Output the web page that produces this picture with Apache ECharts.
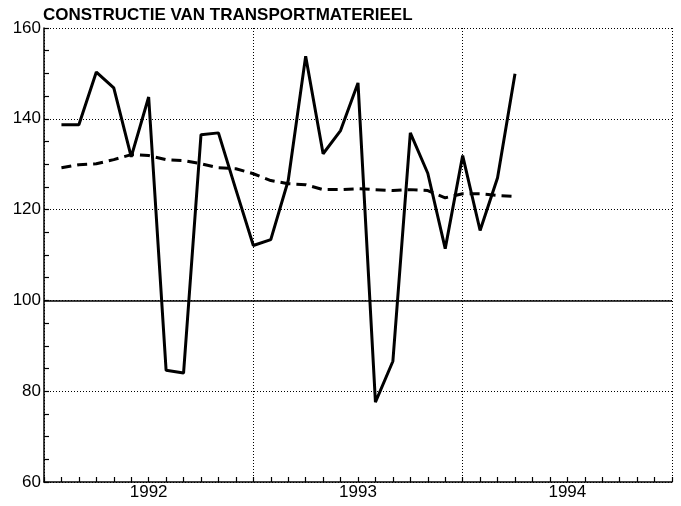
<!DOCTYPE html>
<html>
<head>
<meta charset="utf-8">
<script src="https://cdn.jsdelivr.net/npm/echarts@6/dist/echarts.min.js"></script>
<style>
  html, body { margin: 0; padding: 0; background: #fff; }
  #main { width: 681px; height: 506px; }
</style>
</head>
<body>
<div id="main"></div>
<script>
// x-as: 3 jaren, maandelijkse tikken (37 posities, 0..36)
var years = ['1992', '1993', '1994'];
var monthsPerYear = 12;
// productie-index, maandwaarden vanaf positie 1
var production = [138.7, 138.7, 150.3, 146.8, 131.6, 144.8, 84.6, 84.0, 136.5, 136.9, 124.4, 112.1,
                  113.4, 126.4, 153.8, 132.3, 137.4, 147.9, 77.6, 86.6, 136.9, 128.0, 111.4, 131.9,
                  115.4, 127.0, 149.9];
// trend (gestippelde lijn)
var trend = [129.2, 129.9, 130.1, 131.0, 132.1, 131.9, 131.0, 130.8, 130.1, 129.2, 129.0, 127.9,
             126.4, 125.7, 125.5, 124.4, 124.4, 124.6, 124.4, 124.2, 124.4, 124.2, 122.6, 123.5,
             123.5, 123.1, 122.9];
var yTicks = [60, 80, 100, 120, 140, 160];

var positions = [];
for (var i = 0; i <= years.length * monthsPerYear; i++) positions.push(i);

var myChart = echarts.init(document.getElementById('main'));
var font = 'Liberation Sans, Arial, sans-serif';

var option = {
  animation: false,
  backgroundColor: '#fff',
  title: {
    text: 'CONSTRUCTIE VAN TRANSPORTMATERIEEL',
    left: 43,
    top: 7,
    padding: 0,
    textStyle: { fontFamily: font, fontSize: 17, fontWeight: 'bold', color: '#000' }
  },
  grid: { left: 44, right: 9, top: 28, bottom: 24, containLabel: false },
  xAxis: {
    type: 'category',
    boundaryGap: false,
    data: positions,
    axisLine: { lineStyle: { color: '#000', width: 1.5 } },
    axisTick: { interval: 0, inside: true, length: 5, lineStyle: { color: '#000', width: 1.2 } },
    axisLabel: {
      interval: 0,
      margin: 2,
      fontFamily: font,
      fontSize: 17,
      color: '#000',
      formatter: function (v, idx) {
        return idx % monthsPerYear === 6 ? years[Math.floor(idx / monthsPerYear)] : '';
      }
    },
    splitLine: {
      show: true,
      interval: function (idx) { return idx % monthsPerYear === 0; },
      lineStyle: { color: '#000', type: [1, 2], width: 1 }
    }
  },
  yAxis: {
    type: 'value',
    min: yTicks[0],
    max: yTicks[yTicks.length - 1],
    interval: 20,
    axisLine: { show: true, lineStyle: { color: '#000', width: 1.5 } },
    axisTick: { show: true, inside: true, length: 5, lineStyle: { color: '#000', width: 1.2 } },
    minorTick: { show: true, splitNumber: 4, length: 5, lineStyle: { color: '#000', width: 1.2 } },
    axisLabel: { margin: 3, fontFamily: font, fontSize: 17, color: '#000' },
    splitLine: { show: true, lineStyle: { color: '#000', type: [1, 2], width: 1 } }
  },
  series: [
    {
      name: 'productie',
      type: 'line',
      data: [null].concat(production),
      symbol: 'none',
      lineStyle: { color: '#000', width: 3 },
      markLine: {
        silent: true,
        symbol: 'none',
        label: { show: false },
        lineStyle: { color: '#000', type: 'solid', width: 1.6 },
        data: [{ yAxis: 100 }]
      }
    },
    {
      name: 'trend',
      type: 'line',
      data: [null].concat(trend),
      symbol: 'none',
      lineStyle: { color: '#000', width: 3, type: [10, 6] }
    }
  ]
};

myChart.setOption(option);
</script>
</body>
</html>
